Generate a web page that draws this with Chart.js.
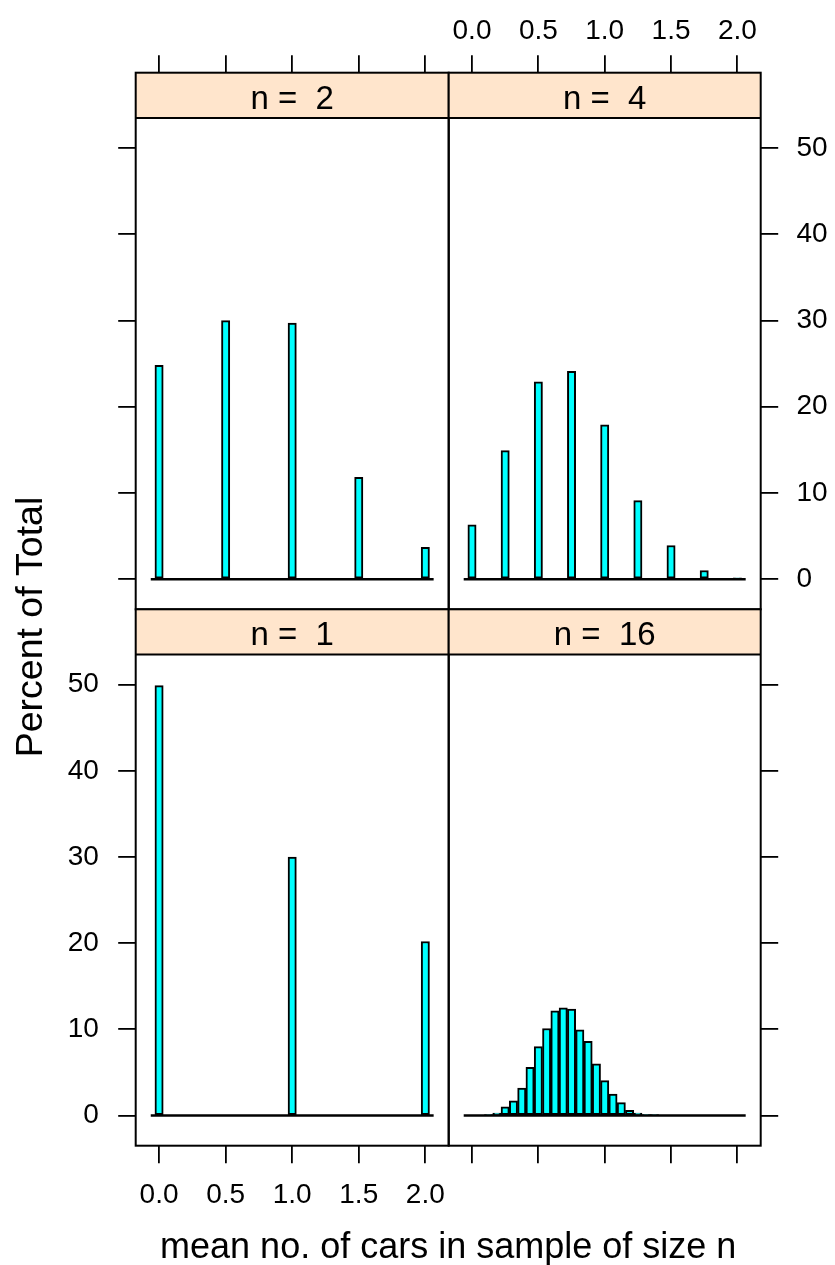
<!DOCTYPE html>
<html>
<head>
<meta charset="utf-8">
<script src="https://cdn.jsdelivr.net/npm/chart.js@4/dist/chart.umd.min.js"></script>
<style>
html, body { margin: 0; padding: 0; background: #fff; }
#wrap { position: relative; width: 835px; height: 1265px; }
#wrap canvas { position: absolute; left: 0; top: 0; }
</style>
</head>
<body>
<div id="wrap">
  <canvas id="panel-n2" width="835" height="1265"></canvas>
  <canvas id="panel-n4" width="835" height="1265"></canvas>
  <canvas id="panel-n1" width="835" height="1265"></canvas>
  <canvas id="panel-n16" width="835" height="1265"></canvas>
</div>
<script>
// values (percent of total per bin of width 1/16)
const xTicks = [0, 0.5, 1, 1.5, 2];
const xTickLabels = ['0.0', '0.5', '1.0', '1.5', '2.0'];
const yTicks = [0, 10, 20, 30, 40, 50];

const means1 = [0, 1, 2];
const pct1 = [49.9, 30.0, 20.2];

const means2 = [0, 0.5, 1, 1.5, 2];
const pct2 = [24.8, 30.0, 29.7, 11.8, 3.7];

const means4 = [0, 0.25, 0.5, 0.75, 1, 1.25, 1.5, 1.75, 2];
const pct4 = [6.3, 14.9, 22.9, 24.1, 17.9, 9.1, 3.9, 1.0, 0.15];

const means16 = [0.125, 0.1875, 0.25, 0.3125, 0.375, 0.4375, 0.5, 0.5625, 0.625, 0.6875, 0.75,
                 0.8125, 0.875, 0.9375, 1, 1.0625, 1.125, 1.1875, 1.25, 1.3125, 1.375];
const pct16 = [0.05, 0.3, 1.0, 1.7, 3.2, 5.6, 8.0, 10.1, 12.15, 12.5, 12.35,
               9.95, 8.6, 6.0, 4.05, 2.5, 1.5, 0.6, 0.3, 0.12, 0.05];

const binWidth = 1 / 16;
const baseSpan = [-1 / 16, 2 + 1 / 16];   // extent of the zero line under the bars
const xRange = [-0.1756, 2.1756];
const yRange = [-3.5, 53.5];

// page layout (pixels)
const W = 835, H = 1265;
const colL = 135.7, colM = 448.7, colR = 760.7;
const rowT = 72.7, rowM = 609.3, rowB = 1145.7;
const stripH = 45.3;
const tickLen = 17.5;
const yAxisW = 90, xAxisH = 60;

Chart.defaults.font.family = "'Liberation Sans', Arial, Helvetica, sans-serif";
Chart.defaults.color = '#000';

let bins = [];
for (let k = 0; k <= 32; k++) bins.push(k * binWidth);

function toBins(means, pct) {
    return bins.map(b => {
        let i = means.findIndex(m => Math.abs(m - b) < 1e-9);
        return { x: b, y: i < 0 ? 0 : pct[i] };
    });
}

const stripPlugin = {
    id: 'strip',
    afterDatasetsDraw(chart, args, opts) {
        const { ctx, chartArea: a, scales } = chart;
        const plotTop = scales.y.getPixelForValue(yRange[1]);
        ctx.save();
        ctx.fillStyle = '#FFE5CC';
        ctx.fillRect(a.left, a.top, a.width, plotTop - a.top);
        ctx.strokeStyle = '#000';
        ctx.lineWidth = 2;
        ctx.beginPath();
        ctx.moveTo(a.left, plotTop);
        ctx.lineTo(a.right, plotTop);
        ctx.stroke();
        ctx.strokeRect(a.left, a.top, a.width, a.height);
        ctx.fillStyle = '#000';
        ctx.font = "33px 'Liberation Sans', Arial, sans-serif";
        ctx.textAlign = 'center';
        ctx.textBaseline = 'alphabetic';
        ctx.fillText(opts.text, (a.left + a.right) / 2, a.top + 36);
        ctx.restore();
    }
};

const titlePlugin = {
    id: 'titles',
    afterDraw(chart) {
        const ctx = chart.ctx;
        ctx.save();
        ctx.fillStyle = '#000';
        ctx.font = "36px 'Liberation Sans', Arial, sans-serif";
        ctx.textAlign = 'center';
        ctx.textBaseline = 'alphabetic';
        ctx.fillText('mean no. of cars in sample of size n', (colL + colR) / 2, 1258);
        ctx.translate(42, 627);
        ctx.rotate(-Math.PI / 2);
        ctx.font = "37.5px 'Liberation Sans', Arial, sans-serif";
        ctx.fillText('Percent of Total', 0, 0);
        ctx.restore();
    }
};

function makePanel(id, label, means, pct, box) {
    const plotH = box.bottom - box.top - stripH;
    const yMax = yRange[1] + (yRange[1] - yRange[0]) * stripH / plotH;
    const xPos = box.xSide, yPos = box.ySide;
    const config = {
        type: 'bar',
        data: {
            datasets: [
                {
                    type: 'bar',
                    data: toBins(means, pct),
                    backgroundColor: '#00FFFF',
                    borderColor: '#000',
                    borderWidth: 2,
                    borderSkipped: false,
                    barPercentage: 1,
                    categoryPercentage: 1,
                    order: 2
                },
                {
                    type: 'line',
                    data: [{ x: baseSpan[0], y: 0 }, { x: baseSpan[1], y: 0 }],
                    borderColor: '#000',
                    borderWidth: 2.5,
                    pointRadius: 0,
                    order: 1
                }
            ]
        },
        options: {
            responsive: false,
            animation: false,
            layout: {
                padding: {
                    left: yPos === 'left' ? box.left - yAxisW : box.left,
                    right: yPos === 'right' ? W - box.right - yAxisW : W - box.right,
                    top: xPos === 'top' ? box.top - xAxisH : box.top,
                    bottom: xPos === 'bottom' ? H - box.bottom - xAxisH : H - box.bottom
                }
            },
            plugins: {
                legend: { display: false },
                tooltip: { enabled: false },
                strip: { text: label }
            },
            scales: {
                x: {
                    type: 'linear',
                    position: xPos,
                    min: xRange[0],
                    max: xRange[1],
                    offset: false,
                    afterBuildTicks: s => { s.ticks = xTicks.map(v => ({ value: v })); },
                    afterFit: s => { s.height = xAxisH; },
                    grid: { drawOnChartArea: false, offset: false, tickLength: tickLen, color: '#000', lineWidth: 1.8 },
                    border: { display: false },
                    ticks: {
                        display: box.xLabels,
                        font: { size: 28 },
                        padding: xPos === 'top' ? 7.2 : 15.2,
                        maxRotation: 0,
                        autoSkip: false,
                        callback: (v, i) => xTickLabels[i]
                    }
                },
                y: {
                    type: 'linear',
                    position: yPos,
                    min: yRange[0],
                    max: yMax,
                    afterBuildTicks: s => { s.ticks = yTicks.map(v => ({ value: v })); },
                    afterFit: s => { s.width = yAxisW; },
                    grid: { drawOnChartArea: false, tickLength: tickLen, color: '#000', lineWidth: 1.8 },
                    border: { display: false },
                    ticks: {
                        display: box.yLabels,
                        font: { size: 28 },
                        padding: yPos === 'left' ? 19.4 : 18.3
                    }
                }
            }
        },
        plugins: box.titles ? [stripPlugin, titlePlugin] : [stripPlugin]
    };
    return new Chart(document.getElementById(id), config);
}

const chartN2 = makePanel('panel-n2', 'n =  2', means2, pct2,
    { left: colL, right: colM, top: rowT, bottom: rowM, xSide: 'top', ySide: 'left', xLabels: false, yLabels: false });
const chartN4 = makePanel('panel-n4', 'n =  4', means4, pct4,
    { left: colM, right: colR, top: rowT, bottom: rowM, xSide: 'top', ySide: 'right', xLabels: true, yLabels: true });
const chartN1 = makePanel('panel-n1', 'n =  1', means1, pct1,
    { left: colL, right: colM, top: rowM, bottom: rowB, xSide: 'bottom', ySide: 'left', xLabels: true, yLabels: true, titles: true });
const chartN16 = makePanel('panel-n16', 'n =  16', means16, pct16,
    { left: colM, right: colR, top: rowM, bottom: rowB, xSide: 'bottom', ySide: 'right', xLabels: false, yLabels: false });
</script>
</body>
</html>
